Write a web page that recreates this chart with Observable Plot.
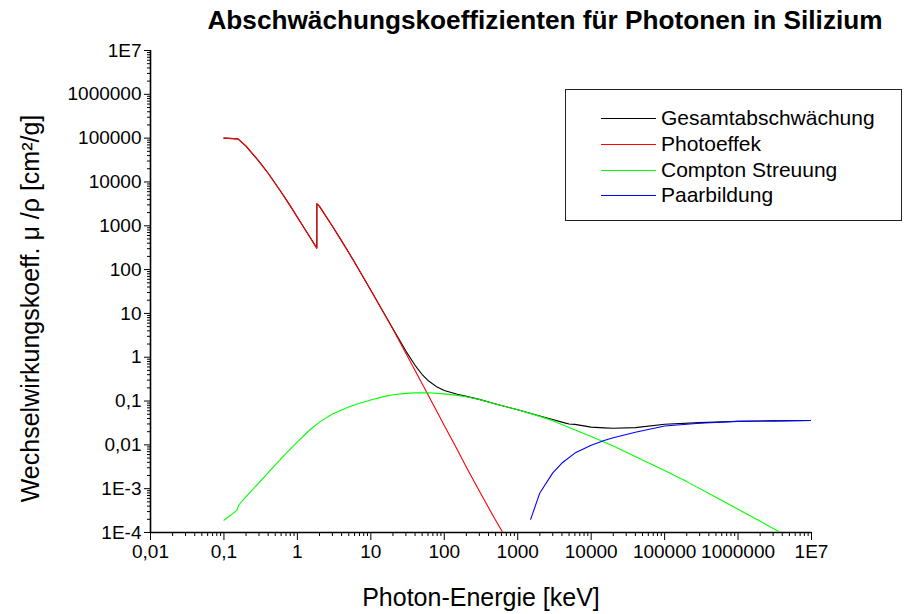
<!DOCTYPE html>
<html><head><meta charset="utf-8">
<script src="https://cdn.jsdelivr.net/npm/d3@7"></script>
<script src="https://cdn.jsdelivr.net/npm/@observablehq/plot@0.6"></script>
<style>
body{margin:0;background:#fff;font-family:"Liberation Sans",Arial,sans-serif;}
#wrap{position:relative;width:909px;height:614px;overflow:hidden;}
#title{position:absolute;left:545px;top:6px;transform:translateX(-50%);white-space:nowrap;font-weight:bold;font-size:26.2px;line-height:28px;color:#000;}
#chart{position:absolute;left:0;top:40px;}
#legend{position:absolute;left:565px;top:89px;width:337px;height:132px;border:1px solid #222;box-sizing:border-box;background:#fff;}
.row{position:absolute;left:0;height:26px;}
.sw{position:absolute;left:35px;width:55px;height:0;border-top:1px solid;}
.lt{position:absolute;left:95px;font-size:21px;white-space:nowrap;line-height:24px;}
</style></head><body>
<div id="wrap">
  <div id="title"></div>
  <div id="chart"></div>
  <div id="legend"></div>
</div>
<script>
const titleText = "Abschwächungskoeffizienten für Photonen in Silizium";
const xLabel = "Photon-Energie [keV]";
const yLabel = "Wechselwirkungskoeff. \u03bc /\u03c1 [cm\u00b2/g]";

const xTicks = [0.01, 0.1, 1, 10, 100, 1000, 1e4, 1e5, 1e6, 1e7];
const xTickLabels = ["0,01", "0,1", "1", "10", "100", "1000", "10000", "100000", "1000000", "1E7"];
const yTicks = [1e-4, 1e-3, 0.01, 0.1, 1, 10, 100, 1000, 1e4, 1e5, 1e6, 1e7];
const yTickLabels = ["1E-4", "1E-3", "0,01", "0,1", "1", "10", "100", "1000", "10000", "100000", "1000000", "1E7"];

const seriesNames = ["Gesamtabschwächung", "Photoeffek", "Compton Streuung", "Paarbildung"];
const seriesColors = ["#000000", "#ff0000", "#00ff00", "#0000ff"];

// Gesamtabschwächung
const totalE  = [0.1,0.155,0.2,0.3,0.4,0.5,0.6,0.8,1,1.5,1.839,1.839,2,3,4,5,6,8,10,15,20,30,40,50,60,80,100,150,200,300,500,1000,2000,3000,4000,5000,6000,1e4,1.5e4,2e4,4e4,1e5,3e5,1e6,3e6,1e7];
const totalMu = [1.0e5,9.6e4,6.6e4,2.95e4,1.58e4,9.2e3,5.9e3,2.85e3,1570,533,309,3190,2770,978,452,245,147,64.4,33.7,10.33,4.47,1.38,0.654,0.403,0.295,0.208,0.174,0.143,0.128,0.109,0.086,0.063,0.0455,0.0381,0.033,0.030,0.0293,0.0254,0.0244,0.0239,0.0247,0.0296,0.0321,0.0346,0.0353,0.0361];

// Photoeffekt
const photoE  = [0.1,0.155,0.2,0.3,0.4,0.5,0.6,0.8,1,1.5,1.839,1.839,2,3,4,5,6,8,10,15,20,30,40,50,60,80,100,150,200,300,400,500,600,800];
const photoMu = [1.0e5,9.6e4,6.6e4,2.95e4,1.58e4,9.2e3,5.9e3,2.85e3,1570,533,309,3190,2770,978,452,245,147,64.3,33.6,10.2,4.33,1.23,0.50,0.248,0.14,0.056,0.0277,0.0078,0.0031,0.00089,0.00037,0.00019,0.000112,0.00005];

// Compton Streuung
const comptonE  = [0.1,0.15,0.16,0.2,0.35,0.5,0.7,1,1.5,2,3,5,7,10,15,20,30,40,60,100,150,200,300,500,1000,2000,3000,5000,1e4,2e4,5e4,1e5,2e5,5e5,1e6,2e6,5e6];
const comptonMu = [1.9e-4,3.2e-4,4.3e-4,6.6e-4,1.8e-3,3.5e-3,6.4e-3,0.0117,0.0224,0.033,0.0506,0.073,0.089,0.106,0.126,0.139,0.150,0.154,0.155,0.146,0.135,0.125,0.108,0.086,0.063,0.0447,0.0357,0.025,0.0156,0.0094,0.0045,0.0026,0.00145,0.00064,0.00034,0.00018,0.000078];

// Paarbildung
const pairE  = [1500,2000,3000,4000,6000,1e4,1.5e4,2e4,4e4,1e5,3e5,1e6,3e6,1e7];
const pairMu = [2.0e-4,8.0e-4,2.3e-3,3.85e-3,6.5e-3,0.0098,0.0126,0.0145,0.0194,0.027,0.0311,0.0343,0.0352,0.0361];

const toRows = (E, M) => E.map((e, i) => ({e, mu: M[i]}));
const series = [toRows(totalE, totalMu), toRows(photoE, photoMu), toRows(comptonE, comptonMu), toRows(pairE, pairMu)];

// minor tick positions (2..9 per decade)
const minor = (lo, hi) => { const r = []; for (let p = lo; p < hi; p++) for (let k = 2; k <= 9; k++) r.push(k * Math.pow(10, p)); return r; };
const xMinor = minor(-2, 7);
const yMinor = minor(-4, 7);

const lab = (ticks, labels) => d => { const i = ticks.findIndex(v => Math.abs(Math.log10(v) - Math.log10(d)) < 1e-6); return i < 0 ? "" : labels[i]; };

document.getElementById("title").textContent = titleText;

const chart = Plot.plot({
  width: 909, height: 574,
  marginLeft: 150, marginRight: 98, marginTop: 10, marginBottom: 82,
  style: {fontFamily: "'Liberation Sans', Arial, sans-serif", fontSize: "19px", color: "#000", background: "#fff", overflow: "visible"},
  x: {type: "log", domain: [0.01, 1e7]},
  y: {type: "log", domain: [1e-4, 1e7]},
  marks: [
    Plot.axisX({ticks: xMinor, tickSize: 4, tickFormat: () => "", label: null, stroke: "#000"}),
    Plot.axisX({ticks: xTicks, tickSize: 8, tickPadding: 4, tickFormat: lab(xTicks, xTickLabels), label: null, stroke: "#000", fontSize: 19}),
    Plot.axisY({ticks: yMinor, tickSize: 3, tickFormat: () => "", label: null, stroke: "#000"}),
    Plot.axisY({ticks: yTicks, tickSize: 6, tickPadding: 3, tickFormat: lab(yTicks, yTickLabels), label: null, stroke: "#000", fontSize: 19}),
    Plot.ruleX([0.01], {stroke: "#000", strokeWidth: 1.6}),
    Plot.ruleY([1e-4], {stroke: "#000", strokeWidth: 1.6}),
    ...series.map((s, i) => Plot.line(s, {x: "e", y: "mu", stroke: seriesColors[i], strokeWidth: 1.1, clip: true})),
    Plot.text([xLabel], {frameAnchor: "bottom", dy: 65, fontSize: 25, textAnchor: "middle", lineAnchor: "middle"}),
    Plot.text([yLabel], {frameAnchor: "left", dx: -120, dy: 17, rotate: -90, fontSize: 25, textAnchor: "middle", lineAnchor: "middle"})
  ]
});
document.getElementById("chart").appendChild(chart);

const leg = document.getElementById("legend");
const rowTops = [28, 54, 80, 105];
seriesNames.forEach((name, i) => {
  const row = document.createElement("div");
  row.className = "row";
  row.style.top = (rowTops[i] - 13) + "px";
  const sw = document.createElement("div");
  sw.className = "sw"; sw.style.top = "13px"; sw.style.borderTopColor = seriesColors[i];
  const t = document.createElement("div");
  t.className = "lt"; t.style.top = "1px"; t.textContent = name;
  row.appendChild(sw); row.appendChild(t);
  leg.appendChild(row);
});
</script>
</body></html>
